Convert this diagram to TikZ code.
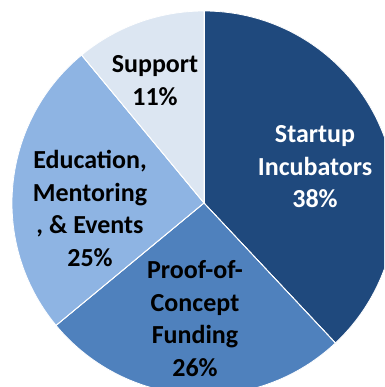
\documentclass[tikz,border=0pt]{standalone}
\usepackage{fontspec}
\setmainfont{Carlito}
\definecolor{incubcol}{HTML}{1F497D}
\definecolor{proofcol}{HTML}{4F81BD}
\definecolor{educol}{HTML}{8EB4E3}
\definecolor{suppcol}{HTML}{DCE6F2}
\tikzset{
	slice/.style = {draw=white, line width=0.8pt},
	label/.style = {align=center, font=\fontsize{26}{32.5}\selectfont\bfseries, inner sep=0pt}
}
\begin{document}
\begin{tikzpicture}[x=1pt,y=1pt]
	\useasboundingbox (-204,-184) rectangle (180,203);
	\clip (-204,-184) rectangle (180,203);
	\fill[slice, fill = incubcol]	(0,0) -- (90:192) arc (90:-46.8:192) -- cycle;
	\fill[slice, fill = proofcol]	(0,0) -- (-46.8:192) arc (-46.8:-140.4:192) -- cycle;
	\fill[slice, fill = educol]	(0,0) -- (-140.4:192) arc (-140.4:-230.4:192) -- cycle;
	\fill[slice, fill = suppcol]	(0,0) -- (129.6:192) arc (129.6:90:192) -- cycle;
	\draw[slice] (0,0) -- (90:192);
	\draw[slice] (0,0) -- (-46.8:192);
	\draw[slice] (0,0) -- (-140.4:192);
	\draw[slice] (0,0) -- (129.6:192);
	\node (incub) at ( 111,   36)	[label, text = white]	{Startup\\Incubators\\38\%};
	\node (proof) at (  -9, -115.5)	[label]	{Proof-of-\\Concept\\Funding\\26\%};
	\node (edu)   at (-114,  -5.5)	[label]	{Education,\\Mentoring\\, \& Events\\25\%};
	\node (supp)  at ( -49,  122.5)	[label]	{Support\\11\%};
\end{tikzpicture}
\end{document}
